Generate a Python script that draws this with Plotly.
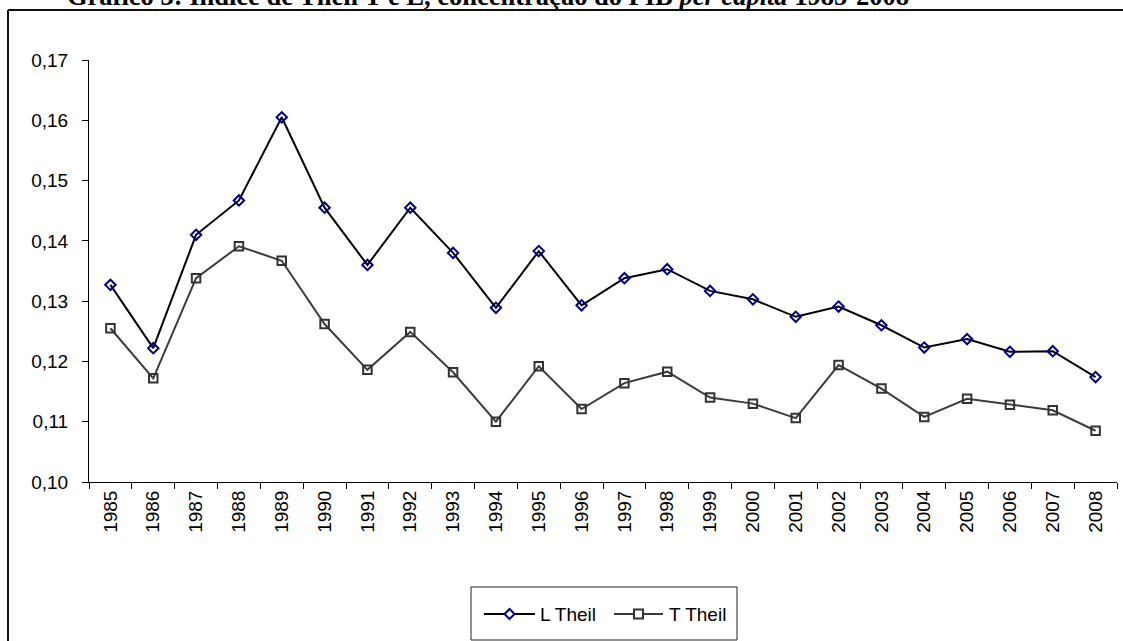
import plotly.graph_objects as go

# Theil indices of GDP per capita concentration, 1985-2008
years = [str(y) for y in range(1985, 2009)]
l_theil = [0.1327, 0.1222, 0.1410, 0.1467, 0.1605, 0.1455, 0.1360, 0.1455,
           0.1380, 0.1289, 0.1383, 0.1293, 0.1338, 0.1353, 0.1317, 0.1303,
           0.1274, 0.1291, 0.1260, 0.1223, 0.1237, 0.1216, 0.1217, 0.1174]
t_theil = [0.1255, 0.1172, 0.1338, 0.1391, 0.1367, 0.1262, 0.1186, 0.1249,
           0.1182, 0.1100, 0.1192, 0.1121, 0.1164, 0.1183, 0.1140, 0.1130,
           0.1106, 0.1194, 0.1155, 0.1108, 0.1138, 0.1128, 0.1119, 0.1085]
y_ticks = [0.10, 0.11, 0.12, 0.13, 0.14, 0.15, 0.16, 0.17]

W, H = 1123, 641
ML, MR, MT, MB = 89, 6, 60, 159
PW, PH = W - ML - MR, H - MT - MB


def px(x):
    """Pixel column -> paper x."""
    return (x - ML) / PW


def py(y):
    """Pixel row -> paper y."""
    return (MT + PH - y) / PH


SANS = "Arial, Liberation Sans, sans-serif"
SERIF = "Times New Roman, Liberation Serif, serif"
L_LINE, L_MARK = "#000000", "#000080"
T_LINE, T_MARK = "#3c3c3c", "#333333"

fig = go.Figure()
fig.add_trace(go.Scatter(
    x=years, y=l_theil, name="L Theil", mode="lines+markers",
    line=dict(color=L_LINE, width=2),
    marker=dict(symbol="diamond-open", size=8, color=L_MARK,
                line=dict(width=2, color=L_MARK)),
    showlegend=False,
))
fig.add_trace(go.Scatter(
    x=years, y=t_theil, name="T Theil", mode="lines+markers",
    line=dict(color=T_LINE, width=2),
    marker=dict(symbol="square-open", size=8.5, color=T_MARK,
                line=dict(width=2, color=T_MARK)),
    showlegend=False,
))

shapes = []
annotations = []

# title (sits on the frame's top edge); drawn first so the frame covers it
annotations.append(dict(
    xref="paper", yref="paper", x=px(65), y=py(13.5), xanchor="left", yanchor="bottom",
    showarrow=False,
    text="<b>Gráfico 3: Índice de Theil T e L, concentração do PIB <i>per capita</i> 1985-2008</b>",
    font=dict(family=SERIF, size=26.5, color="black"),
))

# outer frame (left and top edges)
shapes.append(dict(type="line", xref="paper", yref="paper", layer="above",
                   x0=px(8), x1=px(1300), y0=py(10), y1=py(10),
                   line=dict(color="#111111", width=2)))
shapes.append(dict(type="line", xref="paper", yref="paper", layer="above",
                   x0=px(8), x1=px(8), y0=py(10), y1=py(800),
                   line=dict(color="#111111", width=2)))

# legend box
shapes.append(dict(type="rect", xref="paper", yref="paper",
                   x0=px(471), x1=px(737), y0=py(640), y1=py(587),
                   line=dict(color="#222222", width=1), fillcolor="white"))
leg_y = 614
# L Theil entry
shapes.append(dict(type="line", xref="paper", yref="paper",
                   x0=px(484), x1=px(535), y0=py(leg_y), y1=py(leg_y),
                   line=dict(color=L_LINE, width=2)))
cx = 509.5
shapes.append(dict(type="path", xref="paper", yref="paper",
                   xsizemode="pixel", ysizemode="pixel",
                   xanchor=px(cx), yanchor=py(leg_y),
                   path="M0,5 L5,0 L0,-5 L-5,0 Z",
                   line=dict(color=L_MARK, width=2), fillcolor="white"))
annotations.append(dict(xref="paper", yref="paper", x=px(538), y=py(leg_y),
                        xanchor="left", yanchor="middle", showarrow=False,
                        text="L Theil", font=dict(family=SANS, size=19, color="black")))
# T Theil entry
shapes.append(dict(type="line", xref="paper", yref="paper",
                   x0=px(614), x1=px(663), y0=py(leg_y), y1=py(leg_y),
                   line=dict(color=T_LINE, width=2)))
cx = 638.5
shapes.append(dict(type="rect", xref="paper", yref="paper",
                   xsizemode="pixel", ysizemode="pixel",
                   xanchor=px(cx), yanchor=py(leg_y),
                   x0=-4.5, x1=4.5, y0=-4.5, y1=4.5,
                   line=dict(color=T_MARK, width=2), fillcolor="white"))
annotations.append(dict(xref="paper", yref="paper", x=px(667), y=py(leg_y),
                        xanchor="left", yanchor="middle", showarrow=False,
                        text="T Theil", font=dict(family=SANS, size=19, color="black")))

fig.update_layout(
    width=W, height=H,
    margin=dict(l=ML, r=MR, t=MT, b=MB, pad=0),
    paper_bgcolor="white", plot_bgcolor="white",
    separators=",.",
    shapes=shapes, annotations=annotations,
    showlegend=False,
    font=dict(family=SANS, size=19, color="black"),
)
fig.update_xaxes(
    type="category", range=[-0.5, len(years) - 0.5],
    tickson="boundaries", ticks="outside", ticklen=6, tickwidth=1, tickcolor="black",
    showline=True, linecolor="black", linewidth=1, showgrid=False, zeroline=False,
    tickangle=-90, tickfont=dict(family=SANS, size=19, color="black"),
)
fig.update_yaxes(
    range=[0.10, 0.17], tickvals=y_ticks, tickformat=".2f",
    ticks="outside", ticklen=6, tickwidth=1, tickcolor="black",
    showline=True, linecolor="black", linewidth=1, showgrid=False, zeroline=False,
    tickfont=dict(family=SANS, size=19, color="black"), ticklabelstandoff=10,
)

fig.write_html("out.html")
